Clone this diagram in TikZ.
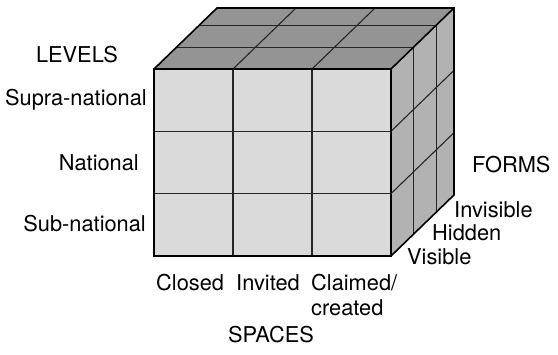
\documentclass[tikz,border=0pt]{standalone}
\usepackage{fontspec}
\setmainfont{TeX Gyre Heros}
\definecolor{frontgray}{RGB}{218,218,218}
\definecolor{topgray}{RGB}{148,148,148}
\definecolor{sidegray}{RGB}{178,178,178}
\begin{document}
\begin{tikzpicture}[x=1pt,y=-1pt,
	label/.style={inner sep=0pt,font=\fontsize{21.8}{25}\selectfont},
	grid/.style={line width=1.1pt,black!85},
	rim/.style={line width=1.6pt,black}]
	\newcommand\xl{154};
	\newcommand\xr{391};
	\newcommand\yt{69};
	\newcommand\yb{256};
	\newcommand\cellw{79};
	\newcommand\cellh{62.33};
	\newcommand\depx{63};
	\newcommand\depy{61};
	\useasboundingbox (0,0) rectangle (558,355);
	% faces
	\fill[frontgray] (\xl,\yt) rectangle (\xr,\yb);
	\fill[topgray] (\xl,\yt) -- (\xl+\depx,\yt-\depy) -- (\xr+\depx,\yt-\depy) -- (\xr,\yt) -- cycle;
	\fill[sidegray] (\xr,\yt) -- (\xr+\depx,\yt-\depy) -- (\xr+\depx,\yb-\depy) -- (\xr,\yb) -- cycle;
	% cell lines
	\foreach \i in {1,2} {
		\draw[grid] (\xl+\i*\cellw,\yt) -- (\xl+\i*\cellw,\yb);
		\draw[grid] (\xl,\yt+\i*\cellh) -- (\xr,\yt+\i*\cellh);
		\draw[grid] (\xl+\i*\cellw,\yt) -- ++(\depx,-\depy);
		\draw[grid] (\xr,\yt+\i*\cellh) -- ++(\depx,-\depy);
	}
	\foreach \t in {0.35,0.72} {
		\draw[grid] (\xl+\t*\depx,\yt-\t*\depy) -- (\xr+\t*\depx,\yt-\t*\depy);
		\draw[grid] (\xr+\t*\depx,\yt-\t*\depy) -- ++(0,\yb-\yt);
	}
	% outline
	\draw[rim] (\xl,\yt) rectangle (\xr,\yb);
	\draw[rim] (\xl,\yt) -- (\xl+\depx,\yt-\depy) -- (\xr+\depx,\yt-\depy) -- (\xr+\depx,\yb-\depy) -- (\xr,\yb);
	\draw[rim] (\xr,\yt) -- (\xr+\depx,\yt-\depy);
	% levels
	\node[label] (levels) at (77,55) {LEVELS};
	\node[label,anchor=east] (supra) at (147,100) {Supra-national};
	\node[label,anchor=east] (national) at (139,163) {National};
	\node[label,anchor=east] (subnat) at (146,224) {Sub-national};
	% forms
	\node[label,anchor=west] (forms) at (472,165) {FORMS};
	\node[label,anchor=west] (invisible) at (454,210) {Invisible};
	\node[label,anchor=west] (hidden) at (432,233) {Hidden};
	\node[label,anchor=west] (visible) at (407,257) {Visible};
	% spaces
	\node[label,anchor=west] (closed) at (156,283) {Closed};
	\node[label,anchor=west] (invited) at (236,283) {Invited};
	\node[label,anchor=base west] (claimed) at (311,290.5) {Claimed/};
	\node[label,anchor=west] (created) at (311,308) {created};
	\node[label] (spaces) at (271,335) {SPACES};
\end{tikzpicture}
\end{document}
